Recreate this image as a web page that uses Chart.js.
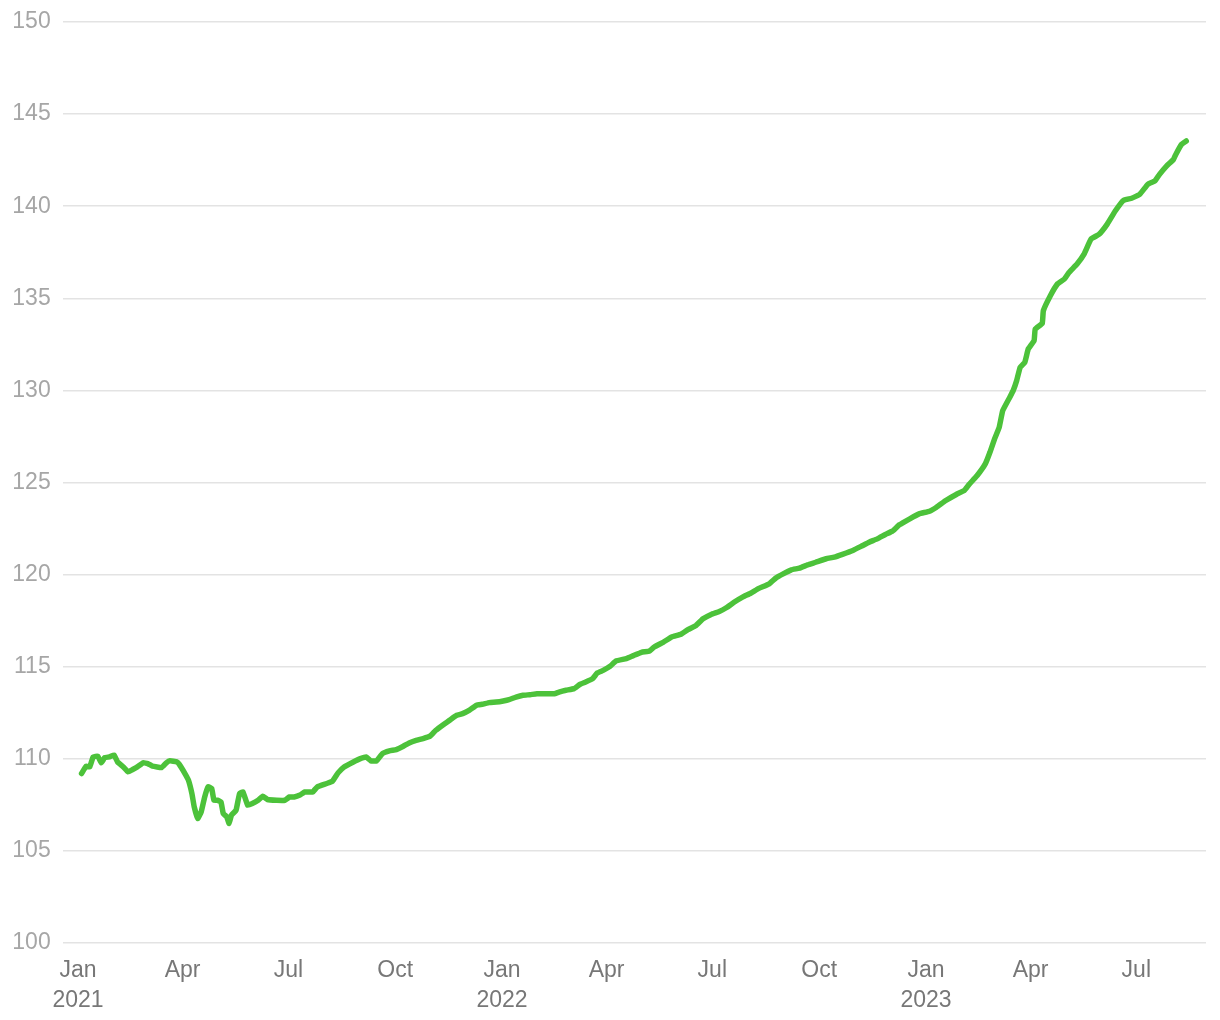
<!DOCTYPE html>
<html>
<head>
<meta charset="utf-8">
<script src="https://cdn.jsdelivr.net/npm/chart.js@4.4.1/dist/chart.umd.min.js"></script>
<style>
  html, body { margin: 0; padding: 0; background: #ffffff; }
  #wrap { width: 1220px; height: 1020px; position: relative; }
</style>
</head>
<body>
<div id="wrap"><canvas id="c"></canvas></div>
<script>
// ---- Data ----
const dates = [
  '2021-01-04','2021-01-08','2021-01-11','2021-01-14','2021-01-18','2021-01-21','2021-01-24','2021-01-28',
  '2021-02-01','2021-02-04','2021-02-09','2021-02-13','2021-02-17','2021-02-21','2021-02-26',
  '2021-03-02','2021-03-06','2021-03-14','2021-03-18','2021-03-21','2021-03-27','2021-03-29',
  '2021-04-03','2021-04-06','2021-04-09','2021-04-11','2021-04-14','2021-04-17','2021-04-20','2021-04-23','2021-04-26','2021-04-28',
  '2021-05-01','2021-05-04','2021-05-06','2021-05-09','2021-05-11','2021-05-13','2021-05-17','2021-05-20','2021-05-23','2021-05-27','2021-05-31',
  '2021-06-05','2021-06-09','2021-06-13','2021-06-21','2021-06-28',
  '2021-07-02','2021-07-06','2021-07-11','2021-07-15','2021-07-22','2021-07-26',
  '2021-08-03','2021-08-08','2021-08-13','2021-08-18','2021-08-26',
  '2021-09-01','2021-09-06','2021-09-10','2021-09-15','2021-09-20','2021-09-26',
  '2021-10-02','2021-10-08','2021-10-13','2021-10-19','2021-10-25','2021-10-31',
  '2021-11-05','2021-11-12','2021-11-17','2021-11-23','2021-11-28',
  '2021-12-04','2021-12-10','2021-12-15','2021-12-21','2021-12-27',
  '2022-01-02','2022-01-07','2022-01-13','2022-01-19','2022-01-25','2022-01-31',
  '2022-02-08','2022-02-15','2022-02-19','2022-02-25',
  '2022-03-04','2022-03-09','2022-03-14','2022-03-20','2022-03-24','2022-03-29',
  '2022-04-04','2022-04-09','2022-04-18','2022-04-24',
  '2022-05-01','2022-05-08','2022-05-12','2022-05-20','2022-05-27',
  '2022-06-04','2022-06-10','2022-06-17','2022-06-23','2022-06-30',
  '2022-07-07','2022-07-13','2022-07-20','2022-07-27',
  '2022-08-03','2022-08-10','2022-08-19','2022-08-25','2022-08-31',
  '2022-09-07','2022-09-14','2022-09-21','2022-09-28',
  '2022-10-07','2022-10-14','2022-10-21','2022-10-30',
  '2022-11-06','2022-11-13','2022-11-20','2022-11-27',
  '2022-12-03','2022-12-09','2022-12-18','2022-12-26',
  '2023-01-04','2023-01-10','2023-01-18','2023-01-27',
  '2023-02-03','2023-02-07','2023-02-14','2023-02-21','2023-02-25',
  '2023-03-01','2023-03-05','2023-03-08','2023-03-14','2023-03-17','2023-03-20','2023-03-23','2023-03-27','2023-03-30',
  '2023-04-04','2023-04-05','2023-04-11','2023-04-12','2023-04-18','2023-04-24','2023-04-30',
  '2023-05-04','2023-05-11','2023-05-17','2023-05-23','2023-05-30',
  '2023-06-06','2023-06-13','2023-06-20','2023-06-27',
  '2023-07-04','2023-07-11','2023-07-17','2023-07-21','2023-07-27',
  '2023-08-02','2023-08-04','2023-08-09','2023-08-13'
];
const values = [
  109.2,109.6,109.56,110.1,110.14,109.78,110.07,110.1,
  110.2,109.83,109.56,109.29,109.42,109.56,109.78,
  109.74,109.6,109.53,109.78,109.89,109.83,109.71,
  109.2,108.84,108.11,107.39,106.76,107.12,107.93,108.48,108.39,107.75,
  107.75,107.66,107.03,106.85,106.49,106.94,107.21,108.11,108.2,107.48,107.57,
  107.75,107.97,107.79,107.75,107.75,
  107.93,107.93,108.03,108.2,108.2,108.48,
  108.66,108.78,109.25,109.56,109.83,
  110.01,110.1,109.89,109.89,110.28,110.43,
  110.5,110.68,110.86,111.0,111.1,111.23,
  111.55,111.88,112.1,112.36,112.45,
  112.64,112.91,112.96,113.05,113.08,
  113.14,113.21,113.35,113.45,113.48,113.53,
  113.53,113.53,113.62,113.72,
  113.81,114.04,114.17,114.35,114.66,114.8,
  115.02,115.31,115.44,115.6,
  115.78,115.85,116.07,116.34,116.61,
  116.76,117.01,117.24,117.6,117.84,
  118.0,118.2,118.51,118.78,
  118.99,119.25,119.5,119.83,120.04,
  120.26,120.35,120.53,120.67,
  120.86,120.95,121.1,121.31,
  121.53,121.76,121.94,122.18,
  122.36,122.7,123.03,123.3,
  123.44,123.66,124.02,124.35,
  124.57,124.89,125.38,126.01,126.64,
  127.37,128.0,128.9,129.62,129.99,130.53,131.25,131.52,132.25,
  132.7,133.33,133.64,134.33,135.14,135.77,136.04,
  136.4,136.86,137.4,138.21,138.48,
  139.03,139.75,140.32,140.43,
  140.65,141.19,141.37,141.73,142.18,
  142.54,142.81,143.36,143.54
];
const tickDates = ['2021-01-01','2021-04-01','2021-07-01','2021-10-01','2022-01-01','2022-04-01','2022-07-01','2022-10-01','2023-01-01','2023-04-01','2023-07-01'];
const tickLabels = [['Jan','2021'],'Apr','Jul','Oct',['Jan','2022'],'Apr','Jul','Oct',['Jan','2023'],'Apr','Jul'];
const xMinDate = '2020-12-19';
const xMaxDate = '2023-08-30';
const yMin = 100, yMax = 150, yStep = 5;

// ---- Build chart ----
const toTs = s => Date.parse(s + 'T00:00:00Z');
const points = dates.map((d, i) => ({ x: toTs(d), y: values[i] }));
const tickTs = tickDates.map(toTs);

new Chart(document.getElementById('c'), {
  type: 'line',
  data: {
    datasets: [{
      data: points,
      borderColor: '#4cc23a',
      borderWidth: 5.5,
      pointRadius: 0,
      tension: 0.1,
      fill: false,
      borderCapStyle: 'round',
      borderJoinStyle: 'round'
    }]
  },
  options: {
    responsive: true,
    maintainAspectRatio: false,
    animation: false,
    layout: { padding: { left: 0, right: 14, top: 22, bottom: 0 } },
    plugins: { legend: { display: false }, tooltip: { enabled: false } },
    scales: {
      x: {
        type: 'linear',
        min: toTs(xMinDate),
        max: toTs(xMaxDate),
        grid: { display: false, drawTicks: false },
        border: { display: false },
        afterBuildTicks: (axis) => { axis.ticks = tickTs.map(v => ({ value: v })); },
        afterFit: (axis) => { axis.paddingLeft = 0; axis.paddingRight = 0; axis.height = 77; },
        ticks: {
          autoSkip: false,
          maxRotation: 0,
          padding: 13,
          color: '#777777',
          font: { family: '"Liberation Sans", Arial, sans-serif', size: 23, lineHeight: 1.3 },
          callback: (v) => { const i = tickTs.indexOf(v); return i >= 0 ? tickLabels[i] : ''; }
        }
      },
      y: {
        min: yMin,
        max: yMax,
        grid: { color: '#e3e3e3', lineWidth: 1.5, drawTicks: false },
        border: { display: false },
        afterFit: (axis) => { axis.paddingTop = 0; axis.paddingBottom = 0; },
        ticks: {
          stepSize: yStep,
          padding: 12.3,
          color: '#a6a6a6',
          font: { family: '"Liberation Sans", Arial, sans-serif', size: 23 }
        }
      }
    }
  }
});
</script>
</body>
</html>
